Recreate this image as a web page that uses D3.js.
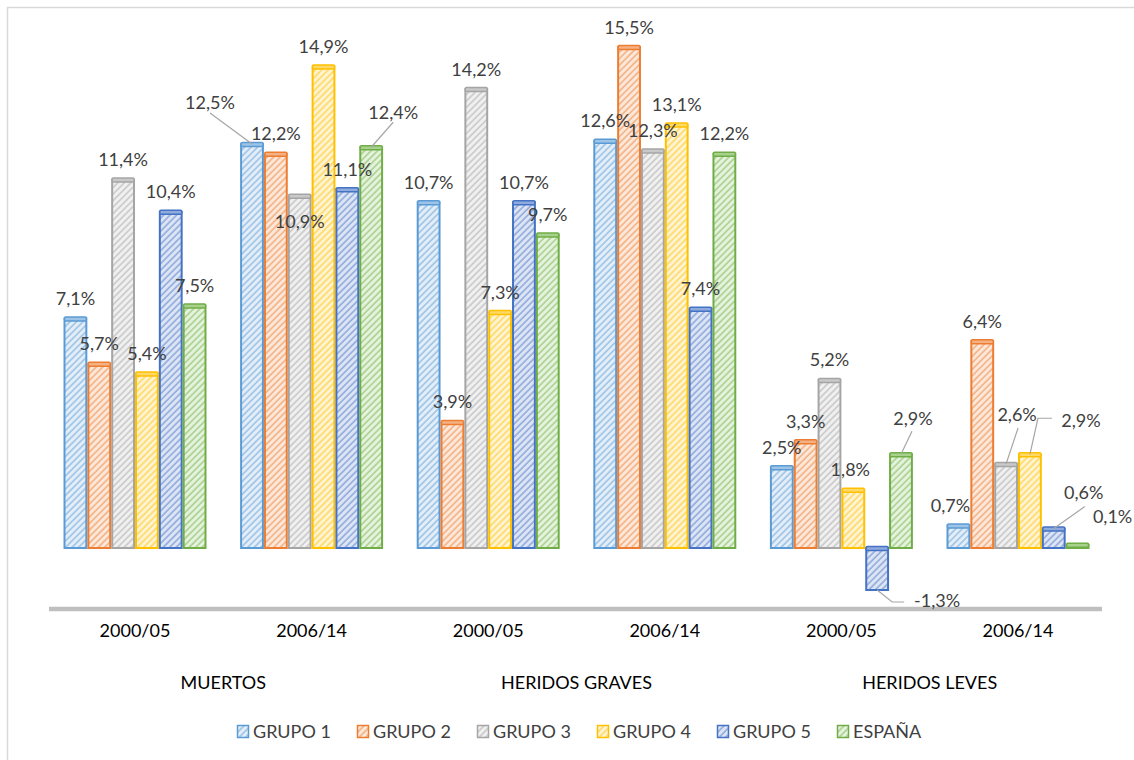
<!DOCTYPE html>
<html>
<head>
<meta charset="utf-8">
<script src="https://cdn.jsdelivr.net/npm/d3@7"></script>
<style>
  html, body { margin: 0; padding: 0; background: #fff; }
  svg { display: block; }
  text { font-family: Lato, "Open Sans", sans-serif; }
</style>
</head>
<body>
<svg id="chart" width="1134" height="760"></svg>
<script>
// ---------------- DATA ----------------
const periods = ["2000/05", "2006/14", "2000/05", "2006/14", "2000/05", "2006/14"];
const groups = ["MUERTOS", "HERIDOS GRAVES", "HERIDOS LEVES"];
const seriesNames = ["GRUPO 1", "GRUPO 2", "GRUPO 3", "GRUPO 4", "GRUPO 5", "ESPAÑA"];
const grupo1 = [7.1, 12.5, 10.7, 12.6, 2.5, 0.7];
const grupo2 = [5.7, 12.2, 3.9, 15.5, 3.3, 6.4];
const grupo3 = [11.4, 10.9, 14.2, 12.3, 5.2, 2.6];
const grupo4 = [5.4, 14.9, 7.3, 13.1, 1.8, 2.9];
const grupo5 = [10.4, 11.1, 10.7, 7.4, -1.3, 0.6];
const espana = [7.5, 12.4, 9.7, 12.2, 2.9, 0.1];
const seriesValues = [grupo1, grupo2, grupo3, grupo4, grupo5, espana];

// ---------------- STYLE ----------------
const strokeColors = ["#5B9BD5", "#ED7D31", "#A5A5A5", "#FFC000", "#4472C4", "#70AD47"];
const bgColors     = ["#E3EEF8", "#FCE8DA", "#F0F0F0", "#FFF4D2", "#DDE5F4", "#E5F2DD"];
const hatchColors  = ["#9DC3E6", "#F4B183", "#C9C9C9", "#FFD966", "#8FAADC", "#A9D18E"];

// label adjustments: key "series-category" -> offset from default position, optional leader (points relative to label centre)
const labelAdjust = {
  "0-1": {dx: -42, dy: -21, leader: [[0, 10]]},
  "2-1": {dx: 0, dy: 46},
  "5-1": {dx: 22, dy: -15, leader: [[0, 10]]},
  "3-4": {dx: -3, dy: 0},
  "4-4": {dx: 60, dy: -9, leader: [[-45, 1], [-33, 1]]},
  "5-4": {dx: 12, dy: -16, leader: [[-1, 13]]},
  "0-5": {dx: -8, dy: 0},
  "2-5": {dx: 11, dy: -29, leader: [[1, 13]]},
  "3-5": {dx: 51, dy: -14, leader: [[-43, -2], [-29, -2]]},
  "4-5": {dx: 30, dy: -16, leader: [[1, 14]]},
  "5-5": {dx: 35, dy: -8}
};

const fmt = v => d3.format(".1f")(v).replace(".", ",").replace("\u2212", "-") + "%";

// ---------------- SCALES ----------------
const svg = d3.select("#chart");
const W = 1134, H = 760;

svg.append("rect").attr("x", 0).attr("y", 0).attr("width", W).attr("height", H).attr("fill", "#fff");
svg.append("rect").attr("x", 7.5).attr("y", 7.5).attr("width", W + 20).attr("height", H + 20)
  .attr("fill", "none").attr("stroke", "#D9D9D9").attr("stroke-width", 1.5);

const catIdx = d3.range(periods.length);
const x0 = d3.scaleBand().domain(catIdx).range([46.7, 1106.3]).padding(0);
const innerW = 143;
const x1 = d3.scaleBand().domain(d3.range(seriesNames.length)).range([0, innerW]).padding(0);
const y = d3.scaleLinear().domain([-2, 16]).range([612.64, 30.88]);

// ---------------- PATTERNS ----------------
const defs = svg.append("defs");
seriesNames.forEach((s, i) => {
  const p = defs.append("pattern")
    .attr("id", "hatch" + i)
    .attr("patternUnits", "userSpaceOnUse")
    .attr("width", 4.6).attr("height", 4.6)
    .attr("patternTransform", "rotate(45)");
  p.append("rect").attr("width", 4.6).attr("height", 4.6).attr("fill", bgColors[i]);
  p.append("line").attr("x1", 1).attr("y1", 0).attr("x2", 1).attr("y2", 4.6)
    .attr("stroke", hatchColors[i]).attr("stroke-width", 1.6);
});

// ---------------- AXIS LINE (floor) ----------------
svg.append("line")
  .attr("x1", 49).attr("x2", 1102)
  .attr("y1", 609).attr("y2", 609)
  .attr("stroke", "#BFBFBF").attr("stroke-width", 4.5);

// ---------------- BARS ----------------
const barData = [];
seriesValues.forEach((vals, si) => {
  vals.forEach((v, ci) => barData.push({si, ci, v}));
});

const barX = d => x0(d.ci) + (x0.bandwidth() - innerW) / 2 + x1(d.si);
const bw = x1.bandwidth();

const bars = svg.append("g").attr("class", "bars");
bars.selectAll("rect.bar").data(barData).join("rect")
  .attr("class", "bar")
  .attr("x", d => barX(d) + 1)
  .attr("width", bw - 2)
  .attr("y", d => Math.min(y(d.v), y(0)))
  .attr("height", d => Math.max(Math.abs(y(d.v) - y(0)), 2))
  .attr("fill", d => `url(#hatch${d.si})`)
  .attr("stroke", d => strokeColors[d.si])
  .attr("stroke-width", 2);

// top caps (3D look)
bars.selectAll("rect.cap").data(barData).join("rect")
  .attr("class", "cap")
  .attr("x", d => barX(d) + 1)
  .attr("width", bw - 2)
  .attr("y", d => Math.min(y(d.v), y(0)) - 1.5)
  .attr("height", 4)
  .attr("rx", 1)
  .attr("fill", d => hatchColors[d.si])
  .attr("stroke", d => strokeColors[d.si])
  .attr("stroke-width", 1.5);

// ---------------- LABELS ----------------
const labG = svg.append("g").attr("class", "labels");
barData.forEach(d => {
  const cx = barX(d) + bw / 2;
  const anchorY = y(d.v);
  const defY = d.v >= 0 ? y(d.v) - 20 : y(d.v) + 20;
  const adj = labelAdjust[d.si + "-" + d.ci] || {dx: 0, dy: 0};
  const lx = cx + adj.dx, ly = defY + adj.dy;
  if (adj.leader) {
    const pts = [[cx, anchorY]].concat(adj.leader.map(p => [lx + p[0], ly + p[1]]));
    labG.append("path")
      .attr("d", d3.line()(pts))
      .attr("fill", "none").attr("stroke", "#A6A6A6").attr("stroke-width", 1.2);
  }
  labG.append("text")
    .attr("x", lx).attr("y", ly).attr("dy", "0.36em")
    .attr("text-anchor", "middle")
    .attr("font-size", 18)
    .attr("fill", "#404040")
    .text(fmt(d.v));
});

// ---------------- CATEGORY LABELS ----------------
svg.append("g").selectAll("text").data(catIdx).join("text")
  .attr("x", d => x0(d) + x0.bandwidth() / 2)
  .attr("y", 637)
  .attr("text-anchor", "middle")
  .attr("font-size", 18)
  .attr("fill", "#000")
  .text(d => periods[d]);

svg.append("g").selectAll("text").data(groups).join("text")
  .attr("x", (d, i) => (x0(i * 2) + x0(i * 2 + 1) + x0.bandwidth()) / 2)
  .attr("y", 689)
  .attr("text-anchor", "middle")
  .attr("font-size", 18)
  .attr("fill", "#000")
  .text(d => d);

// ---------------- LEGEND ----------------
const leg = svg.append("g").attr("class", "legend");
const legItems = leg.selectAll("g").data(seriesNames).join("g")
  .attr("transform", (d, i) => `translate(${237 + i * 120},725)`);
legItems.append("rect")
  .attr("x", 0.5).attr("y", 0.5).attr("width", 11).attr("height", 12)
  .attr("fill", (d, i) => `url(#hatch${i})`)
  .attr("stroke", (d, i) => strokeColors[i]).attr("stroke-width", 1.5);
legItems.append("text")
  .attr("x", 16).attr("y", 13)
  .attr("font-size", 18)
  .attr("fill", "#404040")
  .text(d => d);
</script>
</body>
</html>
